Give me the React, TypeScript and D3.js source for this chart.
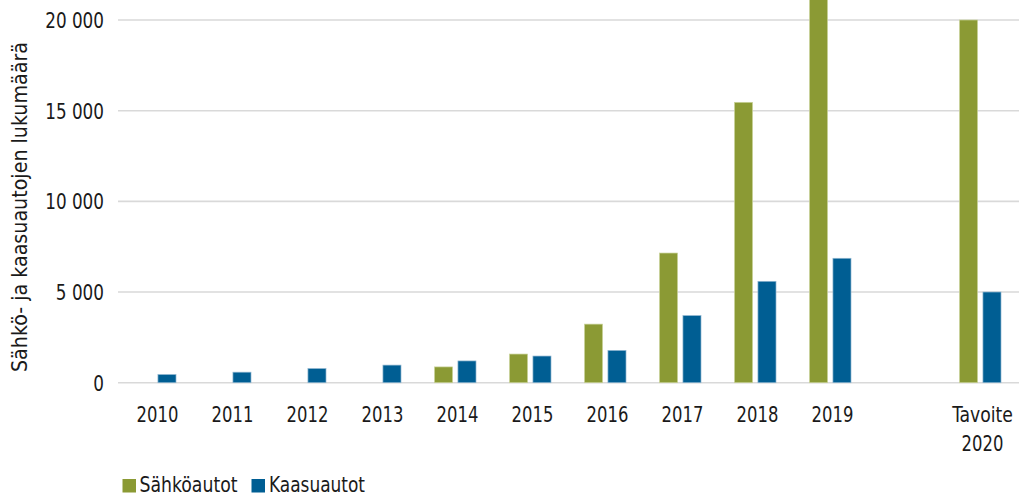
import React from "react";
import * as d3 from "d3";

const categories = ["2010", "2011", "2012", "2013", "2014", "2015", "2016", "2017", "2018", "2019", "", "Tavoite 2020"];
const sahkoautot = [0, 0, 0, 0, 870, 1580, 3230, 7150, 15460, 21800, null, 20000];
const kaasuautot = [450, 580, 780, 970, 1200, 1470, 1780, 3700, 5590, 6860, null, 5000];
const yTicks = [0, 5000, 10000, 15000, 20000];
const seriesNames = ["Sähköautot", "Kaasuautot"];
const colors = ["#8b9a34", "#005e93"];

const W = 1019;
const H = 498;
const FONT = "'Liberation Sans Narrow', 'DejaVu Sans Condensed', 'Arial Narrow', sans-serif";
const INK = "#1a1a1a";

function NText(props: { x: number; y: number; sx: number; anchor?: string; children: React.ReactNode; dy?: string }) {
  return (
    <text
      transform={`translate(${props.x},${props.y}) scale(${props.sx},1)`}
      textAnchor={props.anchor || "start"}
      dy={props.dy}
      fontSize={22}
      fill={INK}
    >
      {props.children}
    </text>
  );
}

export default function App() {
  const x = d3.scaleBand<string>().domain(categories.map((c, i) => i + "")).range([120, 1020]).paddingInner(0).paddingOuter(0);
  const inner = d3.scaleBand<string>().domain(["0", "1"]).range([14.5, 56]).paddingInner(0.23);
  const y = d3.scaleLinear().domain([0, 20000]).range([382.7, 20]);
  const fmt = (v: number) => d3.format(",")(v).replace(/,/g, " ");
  const series = [sahkoautot, kaasuautot];

  return (
    <svg width={W} height={H} style={{ position: "absolute", left: 0, top: 0 }} fontFamily={FONT}>
      {yTicks.map((t) => (
        <g key={t}>
          <line x1={118} x2={1019} y1={y(t)} y2={y(t)} stroke="#d9d9d9" strokeWidth={1.6} />
          <NText x={104} y={y(t)} sx={0.85} anchor="end" dy="0.36em">
            {t === 0 ? "0" : fmt(t)}
          </NText>
        </g>
      ))}
      {series.map((s, si) =>
        s.map((v, i) =>
          v && v > 0 ? (
            <rect
              key={si + "-" + i}
              x={(x(i + "") as number) + (inner(si + "") as number)}
              width={inner.bandwidth()}
              y={y(v)}
              height={y(0) - y(v)}
              fill={colors[si]}
              stroke={si === 0 ? "#c9d39a" : "#8fb6d0"}
              strokeWidth={0.7}
            />
          ) : null
        )
      )}
      {categories.map((c, i) => {
        const cx = (x(i + "") as number) + x.bandwidth() / 2;
        const parts = c.split(" ");
        return (
          <g key={i}>
            {parts.map((p, j) => (
              <NText key={j} x={cx} y={422 + j * 29} sx={/^\d+$/.test(p) ? 0.83 : 0.87} anchor="middle">
                {p}
              </NText>
            ))}
          </g>
        );
      })}
      <text
        transform={`translate(27,207) rotate(-90)`}
        textAnchor="middle"
        fontSize={22}
        fill={INK}
        textLength={330}
        lengthAdjust="spacingAndGlyphs"
      >
        Sähkö- ja kaasuautojen lukumäärä
      </text>
      <g>
        <rect x={122.5} y={479} width={13.5} height={13.5} fill={colors[0]} />
        <text x={139.5} y={491.5} fontSize={22} fill={INK} textLength={98} lengthAdjust="spacingAndGlyphs">
          {seriesNames[0]}
        </text>
        <rect x={251.5} y={479} width={13.5} height={13.5} fill={colors[1]} />
        <text x={269} y={491.5} fontSize={22} fill={INK} textLength={96} lengthAdjust="spacingAndGlyphs">
          {seriesNames[1]}
        </text>
      </g>
    </svg>
  );
}
